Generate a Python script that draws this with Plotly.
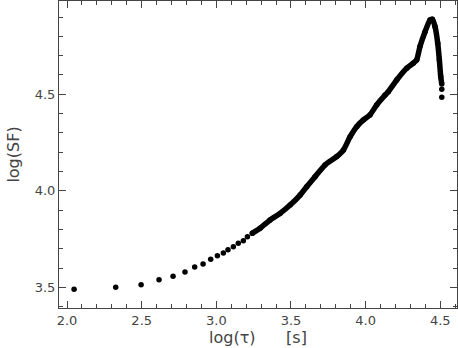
import plotly.graph_objects as go

# sparse, individually visible points (log tau, log SF)
x_sparse = [2.047, 2.326, 2.496, 2.616, 2.710, 2.790, 2.855, 2.911, 2.962, 3.007,
            3.047, 3.078, 3.114, 3.147, 3.181, 3.208, 3.241]
y_sparse = [3.490, 3.500, 3.513, 3.539, 3.557, 3.579, 3.605, 3.621, 3.645, 3.664,
            3.678, 3.695, 3.710, 3.728, 3.741, 3.762, 3.780]

# dense part of the curve (points merge into a band)
x_dense = [3.241, 3.293, 3.360, 3.427, 3.494, 3.561, 3.605, 3.661, 3.728, 3.806,
           3.851, 3.896, 3.940, 3.985, 4.029, 4.074, 4.130, 4.152, 4.208, 4.275,
           4.319, 4.342, 4.364, 4.398, 4.431, 4.447, 4.465, 4.483, 4.494, 4.503,
           4.510]
y_dense = [3.780, 3.806, 3.849, 3.883, 3.926, 3.978, 4.021, 4.073, 4.134, 4.177,
           4.211, 4.280, 4.332, 4.367, 4.393, 4.445, 4.496, 4.513, 4.574, 4.635,
           4.661, 4.678, 4.747, 4.824, 4.885, 4.889, 4.850, 4.764, 4.677, 4.591,
           4.553]

# last separated points at the end of the drop
x_tail = [4.510, 4.510]
y_tail = [4.526, 4.484]

x_ticks = [2.0, 2.5, 3.0, 3.5, 4.0, 4.5]
y_ticks = [3.5, 4.0, 4.5]

fig = go.Figure()
fig.add_trace(go.Scatter(x=x_sparse, y=y_sparse, mode="markers",
                         marker=dict(color="black", size=5.5), showlegend=False))
fig.add_trace(go.Scatter(x=x_dense, y=y_dense, mode="lines+markers",
                         line=dict(color="black", width=5.5, shape="spline", smoothing=0.5),
                         marker=dict(color="black", size=5.5), showlegend=False))
fig.add_trace(go.Scatter(x=x_tail, y=y_tail, mode="markers",
                         marker=dict(color="black", size=5.5), showlegend=False))

axcol = "#444444"
font = dict(family="DejaVu Sans", size=13, color="#444444")
fig.update_layout(
    width=458, height=348,
    margin=dict(l=59, r=1, t=1, b=40),
    plot_bgcolor="white", paper_bgcolor="white",
    font=font,
    xaxis=dict(range=[1.946, 4.612], tickvals=x_ticks, ticktext=[f"{v:.1f}" for v in x_ticks],
               showline=True, linecolor=axcol, linewidth=1, mirror="allticks",
               ticks="inside", ticklen=7, tickcolor=axcol, showgrid=False, zeroline=False,
               minor=dict(dtick=0.1, tick0=2.0, ticks="inside", ticklen=4, tickcolor=axcol, showgrid=False),
               title=dict(text="log(τ)\u00a0\u00a0\u00a0\u00a0\u00a0\u00a0[s]", standoff=4),
               automargin=False),
    yaxis=dict(range=[3.393, 4.983], tickvals=y_ticks, ticktext=[f"{v:.1f}" for v in y_ticks],
               showline=True, linecolor=axcol, linewidth=1, mirror="allticks",
               ticks="inside", ticklen=7, tickcolor=axcol, showgrid=False, zeroline=False,
               minor=dict(dtick=0.1, tick0=3.5, ticks="inside", ticklen=4, tickcolor=axcol, showgrid=False),
               title=dict(text="log(SF)", standoff=11),
               automargin=False),
)
fig.write_html("out.html", config={"displayModeBar": False},
               post_script="document.body.style.margin='0';document.body.style.overflow='hidden';")
